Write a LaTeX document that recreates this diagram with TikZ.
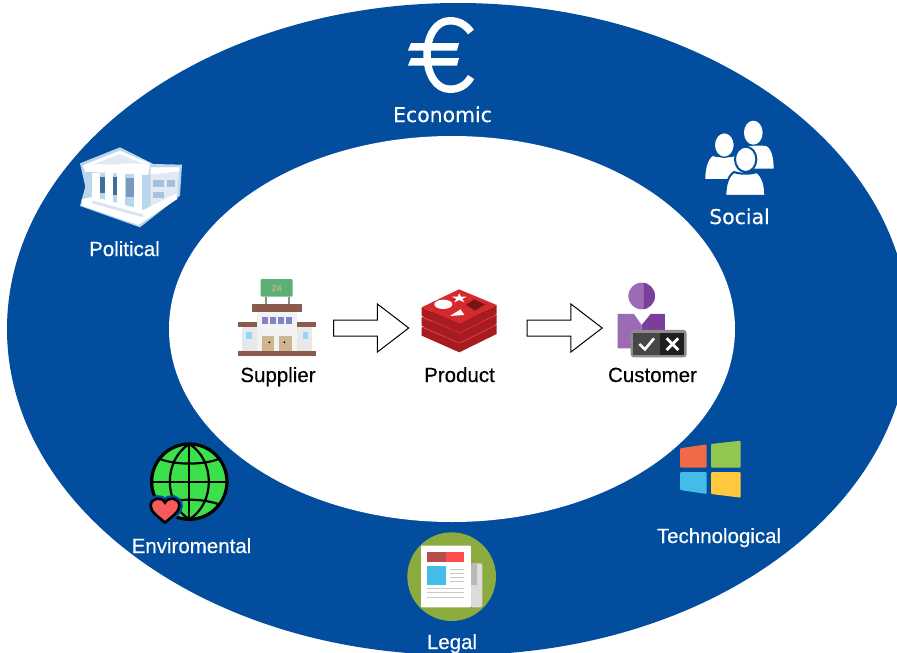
\documentclass[tikz,border=0pt]{standalone}
\usepackage{fontspec}
\setmainfont[RawFeature={embolden=0.3}]{Liberation Sans}
\newfontfamily\dvfont[RawFeature={embolden=0.3}]{DejaVu Sans}
\usetikzlibrary{shapes.arrows}
\definecolor{ringblue}{HTML}{024D9E}
\definecolor{brownroof}{HTML}{8A5A4C}
\definecolor{paleblue}{HTML}{B9D6EC}
\definecolor{slotblue}{HTML}{3F6E9C}
\definecolor{signgreen}{HTML}{5DB075}
\definecolor{signtext}{HTML}{C9B97A}
\definecolor{doortan}{HTML}{CDB58F}
\definecolor{redtop}{HTML}{D52A2D}
\definecolor{redside}{HTML}{A61C20}
\definecolor{redmark}{HTML}{7A1416}
\definecolor{purpleA}{HTML}{9B6BB5}
\definecolor{purpleB}{HTML}{7A3F9A}
\definecolor{globegreen}{HTML}{3BE04B}
\definecolor{heartred}{HTML}{F55B5B}
\definecolor{legalgreen}{HTML}{8CAB3E}
\definecolor{winred}{HTML}{F26A45}
\definecolor{wingreen}{HTML}{93C84F}
\definecolor{winblue}{HTML}{45BCE8}
\definecolor{winyellow}{HTML}{FFC83D}
\tikzset{
  zm/.style 2 args={shift={(#1,#2)},scale=.3333},
  lightlabel/.style={text=white,font=\fontsize{20.5}{24}\selectfont,anchor=base,inner sep=0pt},
  lightwide/.style={text=white,font=\dvfont\fontsize{20.4}{24}\selectfont,anchor=base,inner sep=0pt},
  darklabel/.style={text=black,font=\fontsize{20.5}{24}\selectfont,anchor=base,inner sep=0pt},
  blockarrow/.style={draw=black,fill=white,line width=1pt,single arrow,minimum height=75pt,inner sep=0pt,
    single arrow head extend=16pt,single arrow tip angle=75,single arrow head indent=0pt},
}
\begin{document}
\begin{tikzpicture}[x=1pt,y=-1pt]
\useasboundingbox (0,0) rectangle (897,653);
\clip (0,0) rectangle (897,653);
\fill[white] (0,0) rectangle (897,653);
\fill[ringblue] (458,329) ellipse [x radius=451,y radius=326];
\fill[white] (452,329) ellipse [x radius=283,y radius=193];

% labels
\node[lightwide] (economic) at (442.5,122) {Economic};
\node[lightwide] (social) at (739.5,224) {Social};
\node[lightlabel] (political) at (124.5,256) {Political};
\node[lightlabel] (enviro) at (191.5,553) {Enviromental};
\node[lightlabel] (techno) at (719,543) {Technological};
\node[lightlabel] (legal) at (452,649) {Legal};
\node[darklabel] (supplier) at (278,382) {Supplier};
\node[darklabel] (product) at (459.5,382) {Product};
\node[darklabel] (customer) at (652.5,382) {Customer};

% block arrows
\node[blockarrow] (arrowA) at (366,328) {\rule{0pt}{15pt}};
\node[blockarrow] (arrowB) at (559.5,328) {\rule{0pt}{15pt}};

% euro
\draw[white,line width=7.5pt] (471,32) .. controls (465,24) and (458,20.75) .. (450,20.75)
  .. controls (436,20.75) and (427,36) .. (427,55)
  .. controls (427,74) and (436,89.25) .. (450,89.25)
  .. controls (458,89.25) and (466,86) .. (471,77);
\fill[white] (408,50.5) -- (457,50.5) -- (459,43) -- (411,43) -- cycle;
\fill[white] (408,65.5) -- (457,65.5) -- (459,58) -- (411,58) -- cycle;

% political building
\begin{scope}[zm={60}{130}]
\fill[paleblue] (60,100) -- (180,52) -- (280,102) -- (366,104) -- (360,197) -- (240,292) -- (60,228) -- (76,170) -- cycle;
\fill[ringblue!12!white] (272,112) -- (358,112) -- (352,195) -- (272,238) -- cycle;
\fill[white] (272,112) -- (358,112) -- (358,124) -- (272,134) -- cycle;
\fill[ringblue!35!white] (280,150) rectangle (312,172);
\fill[ringblue!35!white] (280,185) rectangle (312,205);
\fill[ringblue!35!white] (320,150) rectangle (345,170);
\fill[paleblue] (88,132) -- (265,132) -- (265,235) -- (88,212) -- cycle;
\fill[slotblue] (118,140) rectangle (135,190);
\fill[slotblue] (158,140) rectangle (172,195);
\fill[slotblue!70!white] (198,145) rectangle (222,200);
\foreach \cx/\cb in {96/205,135/215,172/228,222/245}
  \fill[white] (\cx,130) rectangle (\cx+24,\cb);
\fill[white] (65,208) -- (100,200) -- (250,240) -- (350,190) -- (352,207) -- (235,285) -- (65,227) -- cycle;
\fill[ringblue!15!white] (100,212) -- (250,254) -- (250,262) -- (95,220) -- cycle;
\fill[white] (180,62) -- (68,106) -- (270,100) -- cycle;
\fill[ringblue!12!white] (180,72) -- (100,103) -- (245,100) -- cycle;
\fill[white] (68,106) -- (270,100) -- (265,135) -- (75,125) -- cycle;
\end{scope}

% supplier
\begin{scope}[zm={220}{270}]
\fill[black!45] (135,80) rectangle (140,103);
\fill[black!45] (205,80) rectangle (210,103);
\fill[signgreen,rounded corners=1pt] (122,27) rectangle (218,80);
\node[inner sep=0pt,text=signtext,font=\fontsize{9}{10}\selectfont] (sign) at (170,54) {24};
\fill[black!5] (110,125) rectangle (232,242);
\fill[black!9] (65,172) rectangle (110,242);
\fill[black!9] (232,172) rectangle (277,242);
\fill[brownroof] (95,103) rectangle (247,125);
\fill[brownroof] (55,157) rectangle (110,172);
\fill[brownroof] (232,157) rectangle (287,172);
\foreach \wx in {125,149,173,197}
  \fill[blue!40!gray!70!white] (\wx,142) rectangle (\wx+18,162);
\fill[blue!35!cyan!45!white] (78,187) rectangle (95,207);
\fill[blue!35!cyan!45!white] (248,187) rectangle (265,207);
\fill[doortan] (125,197) rectangle (163,242);
\fill[doortan] (178,197) rectangle (216,242);
\fill[black] (148,217) circle (3);
\fill[black] (193,217) circle (3);
\fill[brownroof] (55,242) rectangle (287,257);
\end{scope}

% product
\begin{scope}[zm={220}{270}]
\foreach \d in {60,30,0}{
  \fill[redside] (605,112+\d) -- (605,137+\d) -- (718,187+\d) -- (830,132+\d) -- (830,105+\d) -- (720,160+\d) -- cycle;
  \fill[redtop] (605,112+\d) -- (717,58+\d) -- (830,105+\d) -- (720,160+\d) -- cycle;
}
\fill[white] (670,103) ellipse [x radius=27,y radius=14];
\fill[white] (690,138) -- (733,135) -- (722,118) -- cycle;
\fill[redmark] (738,105) -- (762,88) -- (795,103) -- (765,122) -- cycle;
\fill[white] (718,70) -- (723,80) -- (740,80) -- (727,87) -- (733,97) -- (718,90) -- (703,97) -- (709,87) -- (696,80) -- (713,80) -- cycle;
\end{scope}

% customer
\begin{scope}[zm={510}{270}]
\fill[purpleA] (395,78) circle (40);
\begin{scope}
\clip (402,30) rectangle (440,125);
\fill[purpleB] (395,78) circle (40);
\end{scope}
\fill[purpleA] (323,132) -- (372,132) -- (395,165) -- (395,235) -- (323,235) -- cycle;
\fill[purpleB] (395,165) -- (422,132) -- (465,132) -- (465,235) -- (395,235) -- cycle;
\fill[black!45,rounded corners=3pt] (362,180) rectangle (530,262);
\fill[black!72] (370,188) rectangle (450,255);
\fill[black!88] (450,188) rectangle (523,255);
\draw[white,line width=2.6pt] (388,222) -- (405,238) -- (432,205);
\draw[white,line width=2.8pt] (470,205) -- (505,240) (505,205) -- (470,240);
\end{scope}

% globe
\begin{scope}[zm={130}{430}]
\fill[globegreen] (178,155) circle (113);
\begin{scope}[black,line width=2.2pt]
\draw (178,42) -- (178,268);
\draw (178,42) .. controls (100,90) and (100,220) .. (178,268);
\draw (178,42) .. controls (256,90) and (256,220) .. (178,268);
\draw (65,155) -- (291,155);
\draw (92,88) .. controls (140,105) and (216,105) .. (264,88);
\draw (92,222) .. controls (140,205) and (216,205) .. (264,222);
\end{scope}
\draw[black,line width=3.2pt] (178,155) circle (113);
\path[fill=ringblue,draw=ringblue,line width=7pt] (105,278) .. controls (85,260) and (62,246) .. (62,228)
  .. controls (62,203) and (95,198) .. (105,218)
  .. controls (115,198) and (148,203) .. (148,228)
  .. controls (148,246) and (125,260) .. (105,278) -- cycle;
\draw[black,line width=2.6pt,fill=heartred] (105,278) .. controls (85,260) and (62,246) .. (62,228)
  .. controls (62,203) and (95,198) .. (105,218)
  .. controls (115,198) and (148,203) .. (148,228)
  .. controls (148,246) and (125,260) .. (105,278) -- cycle;
\end{scope}

% legal
\begin{scope}[zm={390}{520}]
\fill[legalgreen] (185,170) circle (133);
\fill[black!14,rounded corners=2pt] (243,130) rectangle (277,262);
\fill[black!28] (243,133) rectangle (260,195);
\fill[white,rounded corners=1pt] (93,77) rectangle (243,262);
\fill[red!60!black!70!white] (110,95) rectangle (168,125);
\fill[red!70!white] (168,95) rectangle (223,125);
\fill[winblue] (110,138) rectangle (167,196);
\foreach \ly in {148,160,172,185}
  \draw[black!22,line width=1pt] (180,\ly) -- (222,\ly);
\foreach \ly in {205,218,232}
  \draw[black!22,line width=1pt] (110,\ly) -- (223,\ly);
\end{scope}

% social
\begin{scope}[zm={660}{110}]
\fill[white] (250,112) .. controls (270,106) and (300,106) .. (318,108)
  .. controls (336,115) and (341,150) .. (341,176) -- (250,176) -- cycle;
\fill[white] (280,68) ellipse [x radius=28,y radius=36];
\draw[ringblue,line width=1.2pt,fill=white] (158,136) .. controls (175,142) and (210,142) .. (228,136)
  .. controls (248,150) and (252,180) .. (252,209) -- (134,209) .. controls (134,175) and (142,145) .. (158,136) -- cycle;
\draw[ringblue,line width=1.2pt,fill=white] (193,105) ellipse [x radius=30,y radius=37];
\draw[ringblue,line width=2pt,fill=white] (222,186) .. controls (240,193) and (272,193) .. (290,186)
  .. controls (308,198) and (316,225) .. (316,258) -- (196,258) .. controls (196,225) and (204,198) .. (222,186) -- cycle;
\draw[ringblue,line width=2pt,fill=white] (257,148) ellipse [x radius=32,y radius=38];
\end{scope}

% windows
\begin{scope}[zm={650}{430},rounded corners=1pt]
\fill[winred] (90,55) -- (170,43) -- (170,113) -- (90,113) -- cycle;
\fill[wingreen] (183,42) -- (272,32) -- (272,113) -- (183,113) -- cycle;
\fill[winblue] (90,126) -- (170,126) -- (170,192) -- (90,180) -- cycle;
\fill[winyellow] (183,126) -- (272,126) -- (272,203) -- (183,192) -- cycle;
\end{scope}
\end{tikzpicture}
\end{document}
